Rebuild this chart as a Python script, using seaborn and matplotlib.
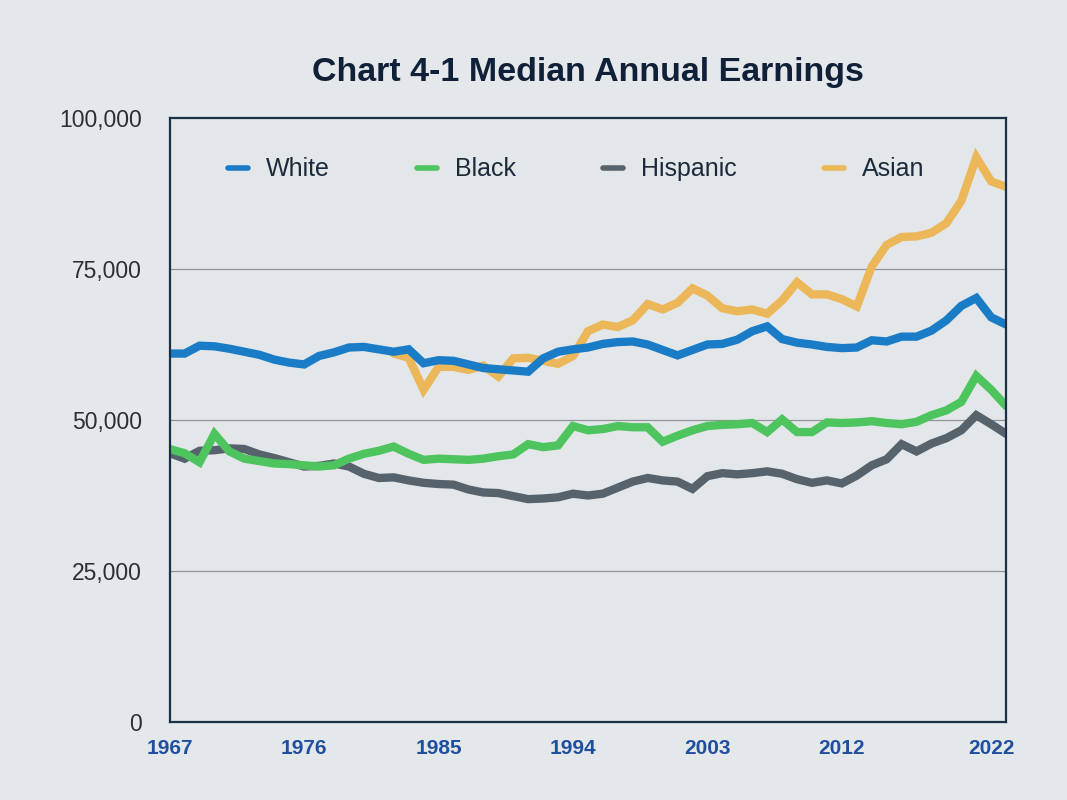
import pandas as pd
import seaborn as sns
import matplotlib.pyplot as plt
import numpy as np

# Data (thousands of dollars), 1967-2023
years = list(range(1967, 2024))

white = [61.0, 61.0, 62.3, 62.2, 61.8, 61.3, 60.8, 60.0, 59.5, 59.2,
         60.6, 61.2, 62.0, 62.1, 61.7, 61.3, 61.7, 59.4, 59.9, 59.8,
         59.2, 58.6, 58.4, 58.2, 58.0, 60.2, 61.3, 61.7, 62.0, 62.6,
         62.9, 63.0, 62.5, 61.6, 60.7, 61.6, 62.5, 62.6, 63.3, 64.7,
         65.5, 63.4, 62.8, 62.5, 62.1, 61.9, 62.0, 63.2, 63.0, 63.8,
         63.8, 64.8, 66.5, 68.9, 70.2, 67.0, 65.8]

black = [45.2, 44.5, 43.0, 47.7, 44.8, 43.6, 43.2, 42.8, 42.7, 42.5,
         42.3, 42.5, 43.6, 44.4, 44.9, 45.6, 44.4, 43.4, 43.6, 43.5,
         43.4, 43.6, 44.0, 44.3, 46.0, 45.5, 45.8, 49.0, 48.3, 48.5,
         49.0, 48.8, 48.8, 46.4, 47.4, 48.3, 49.0, 49.2, 49.3, 49.5,
         48.0, 50.1, 48.0, 48.0, 49.6, 49.5, 49.6, 49.8, 49.5, 49.3,
         49.7, 50.8, 51.6, 53.0, 57.3, 55.0, 52.3]

hispanic = [44.5, 43.6, 44.9, 45.0, 45.3, 45.2, 44.3, 43.7, 43.0, 42.3,
            42.4, 42.8, 42.3, 41.1, 40.4, 40.5, 40.0, 39.6, 39.4, 39.3,
            38.5, 38.0, 37.9, 37.4, 36.9, 37.0, 37.2, 37.8, 37.5, 37.8,
            38.8, 39.8, 40.4, 40.0, 39.8, 38.6, 40.7, 41.2, 41.0, 41.2,
            41.5, 41.1, 40.2, 39.6, 40.0, 39.5, 40.8, 42.5, 43.5, 46.0,
            44.8, 46.1, 47.0, 48.3, 50.8, 49.3, 47.7]

# Asian series starts in 1982
asian = [np.nan] * 15 + [
    61.0, 60.3, 55.0, 58.8, 58.8, 58.3, 59.0, 57.2, 60.2, 60.3,
    59.8, 59.3, 60.6, 64.7, 65.8, 65.4, 66.5, 69.2, 68.3, 69.4,
    71.8, 70.6, 68.5, 68.0, 68.3, 67.6, 69.8, 72.8, 70.8, 70.8,
    70.0, 68.8, 75.4, 79.0, 80.3, 80.4, 81.0, 82.6, 86.3, 93.5,
    89.5, 88.6]

groups = ['White', 'Black', 'Hispanic', 'Asian']
colors = {'White': '#1a7cc6', 'Black': '#4ec45f',
          'Hispanic': '#56636d', 'Asian': '#ebb758'}

x_ticks = [1967, 1976, 1985, 1994, 2003, 2012, 2022]
y_ticks = [0, 25000, 50000, 75000, 100000]
y_labels = ['0', '25,000', '50,000', '75,000', '100,000']

df = pd.DataFrame({'year': years, 'White': white, 'Black': black,
                   'Hispanic': hispanic, 'Asian': asian})
df = df.melt(id_vars='year', var_name='group', value_name='earnings').dropna()
df['earnings'] = df['earnings'] * 1000

sns.set_theme(style='white')
plt.rcParams['font.family'] = ['Liberation Sans', 'DejaVu Sans']

fig = plt.figure(figsize=(10.67, 8), dpi=100, facecolor='#e5e8eb')
ax = fig.add_axes([0.159, 0.0975, 0.784, 0.755])
ax.set_facecolor('#e3e7ea')

# draw in reverse so White ends up on top, as in the original
for g in reversed(groups):
    sns.lineplot(data=df[df['group'] == g], x='year', y='earnings',
                 color=colors[g], linewidth=6, label=g, ax=ax,
                 solid_joinstyle='miter')

ax.set_xlim(1967, 2023)
ax.set_ylim(0, 100000)
ax.set_xticks(x_ticks)
ax.set_xticklabels([str(t) for t in x_ticks], color='#1f4f9e',
                   fontsize=15, fontweight='semibold')
ax.set_yticks(y_ticks)
ax.set_yticklabels(y_labels, color='#2a2f35', fontsize=16.5)
ax.tick_params(axis='x', length=0, pad=12)
ax.tick_params(axis='y', length=0, pad=20)
ax.set_xlabel('')
ax.set_ylabel('')

for yv in [25000, 50000, 75000]:
    ax.axhline(yv, color='#8f959a', linewidth=0.9, zorder=0)

for s in ax.spines.values():
    s.set_color('#1c2f44')
    s.set_linewidth(1.6)

handles, labels = ax.get_legend_handles_labels()
order = [labels.index(g) for g in groups]
leg = ax.legend([handles[i] for i in order], groups, ncol=4,
                loc='center', bbox_to_anchor=(0.486, 0.915), frameon=False,
                fontsize=18, handlelength=0.8, handletextpad=0.7,
                columnspacing=3.5)
for t in leg.get_texts():
    t.set_color('#1c2a3a')
for h in leg.get_lines():
    h.set_linewidth(4)

fig.text(0.551, 0.91, 'Chart 4-1 Median Annual Earnings', ha='center',
         va='center', fontsize=24.5, fontweight='bold', color='#102038')

fig.savefig('out.png', dpi=100, facecolor=fig.get_facecolor())
